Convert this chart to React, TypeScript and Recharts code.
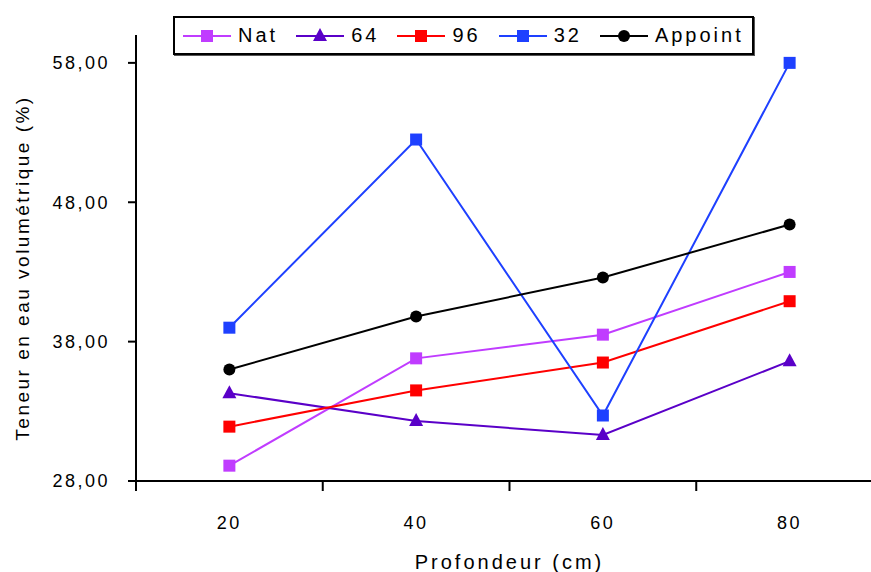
import { Legend, Line, LineChart, XAxis, YAxis } from "recharts";

const depths = [20, 40, 60, 80];
const nat = [29.1, 36.8, 38.5, 43.0];
const s64 = [34.3, 32.3, 31.3, 36.6];
const s96 = [31.9, 34.5, 36.5, 40.9];
const s32 = [39.0, 52.5, 32.7, 58.0];
const appoint = [36.0, 39.8, 42.6, 46.4];

const yTicks = [28, 38, 48, 58];
const xMarks = [10, 30, 50, 70, 90];

const data = depths.map((d, i) => ({
  depth: d,
  nat: nat[i],
  s64: s64[i],
  s96: s96[i],
  s32: s32[i],
  appoint: appoint[i]
}));

const FONT = "'Liberation Sans', Arial, sans-serif";

type Shape = "square" | "triangle" | "circle";

const series: { key: string; name: string; color: string; shape: Shape }[] = [
  { key: "nat", name: "Nat", color: "#c03cff", shape: "square" },
  { key: "s64", name: "64", color: "#5a00c8", shape: "triangle" },
  { key: "s96", name: "96", color: "#ff0000", shape: "square" },
  { key: "s32", name: "32", color: "#1e40ff", shape: "square" },
  { key: "appoint", name: "Appoint", color: "#000000", shape: "circle" }
];

const Marker = ({ cx, cy, color, shape }: { cx: number; cy: number; color: string; shape: Shape }) => {
  if (shape === "square") return <rect x={cx - 6} y={cy - 6} width={12} height={12} fill={color} />;
  if (shape === "triangle")
    return <polygon points={`${cx},${cy - 8} ${cx + 7},${cy + 5} ${cx - 7},${cy + 5}`} fill={color} />;
  return <circle cx={cx} cy={cy} r={6} fill={color} />;
};

const makeDot = (color: string, shape: Shape) => (props: any) => {
  const { cx, cy, index } = props;
  if (cx == null || cy == null) return <g key={index} />;
  return <Marker key={index} cx={cx} cy={cy} color={color} shape={shape} />;
};

const XTick = (props: any) => {
  const { x, y, payload } = props;
  const v = payload.value;
  if (depths.includes(v)) {
    return (
      <text x={x} y={y + 48} textAnchor="middle" fontSize={18} letterSpacing={2.5} fontFamily={FONT} fill="#000">
        {v}
      </text>
    );
  }
  return <line x1={x} x2={x} y1={y - 1} y2={y + 10} stroke="#000" strokeWidth={2} />;
};

const fmt = (v: number) => v.toFixed(2).replace(".", ",");

const LegendBox = () => (
  <div
    style={{
      display: "flex",
      alignItems: "center",
      border: "2px solid #000",
      boxShadow: "1px 1px 0 #555",
      background: "#fff",
      width: 581,
      height: 39,
      padding: "0 0 0 8px",
      boxSizing: "border-box",
      fontFamily: FONT,
      fontSize: 20,
      letterSpacing: 3,
      whiteSpace: "nowrap"
    }}
  >
    {series.map((s) => (
      <div key={s.key} style={{ display: "flex", alignItems: "center", marginRight: 18 }}>
        <svg width={48} height={18}>
          <line x1={0} x2={48} y1={9} y2={9} stroke={s.color} strokeWidth={2} />
          <Marker cx={24} cy={9} color={s.color} shape={s.shape} />
        </svg>
        <span style={{ marginLeft: 7 }}>{s.name}</span>
      </div>
    ))}
  </div>
);

export default function App() {
  return (
    <div style={{ position: "absolute", left: 0, top: 0, width: 871, height: 572, overflow: "hidden", background: "#fff" }}>
      <LineChart width={890} height={572} data={data} margin={{ top: 35, right: 7, left: 0, bottom: 0 }}>
        <XAxis
          dataKey="depth"
          type="number"
          domain={[10, 90]}
          ticks={[...depths, ...xMarks].sort((a, b) => a - b)}
          interval={0}
          height={91}
          tickLine={false}
          tickSize={0}
          tickMargin={0}
          tick={<XTick />}
          axisLine={{ stroke: "#000", strokeWidth: 2 }}
          label={{
            content: (p: any) => {
              const vb = p.viewBox;
              return (
                <text x={vb.x + vb.width / 2} y={569} textAnchor="middle" fontSize={20} letterSpacing={3} fontFamily={FONT} fill="#000">
                  Profondeur (cm)
                </text>
              );
            }
          }}
        />
        <YAxis
          type="number"
          domain={[28, 60]}
          ticks={yTicks}
          width={136}
          tickFormatter={fmt}
          tickSize={8}
          tickMargin={18}
          tickLine={{ stroke: "#000", strokeWidth: 2 }}
          axisLine={{ stroke: "#000", strokeWidth: 2 }}
          tick={{ fill: "#000", fontSize: 18, fontFamily: FONT, letterSpacing: 2.5 }}
          label={{
            content: (p: any) => {
              const vb = p.viewBox;
              const cy = vb.y + vb.height / 2 + 10;
              return (
                <text x={22} y={cy} transform={`rotate(-90, 22, ${cy})`} textAnchor="middle" dominantBaseline="central" fontSize={19} letterSpacing={2.5} fontFamily={FONT} fill="#000">
                  Teneur en eau volumétrique (%)
                </text>
              );
            }
          }}
        />
        <Legend
          layout="horizontal"
          verticalAlign="middle"
          align="center"
          content={() => <LegendBox />}
          wrapperStyle={{ top: 16, left: 173, width: "auto" }}
        />
        {series.map((s) => (
          <Line
            key={s.key}
            dataKey={s.key}
            name={s.name}
            stroke={s.color}
            strokeWidth={2}
            dot={makeDot(s.color, s.shape)}
            activeDot={false}
            isAnimationActive={false}
          />
        ))}
      </LineChart>
    </div>
  );
}
